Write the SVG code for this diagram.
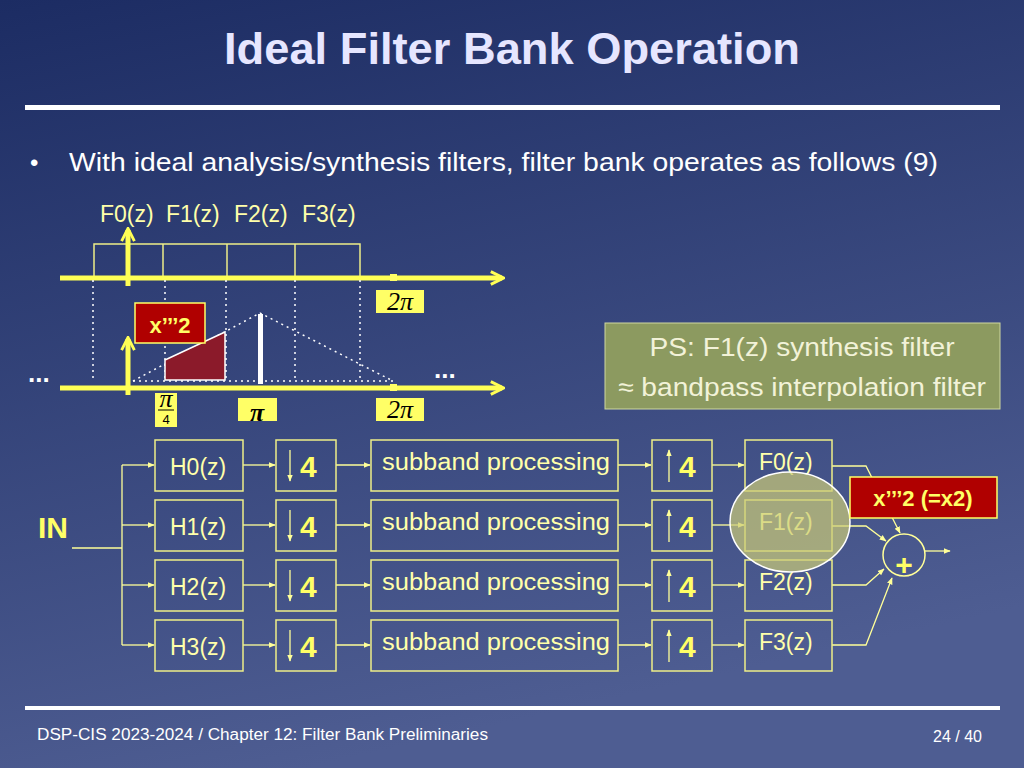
<svg xmlns="http://www.w3.org/2000/svg" width="1024" height="768" viewBox="0 0 1024 768">
<defs>
<linearGradient id="bg" x1="0" y1="0" x2="0.3" y2="1"><stop offset="0" stop-color="#1c2c63"/><stop offset="1" stop-color="#4e5d92"/></linearGradient>
<marker id="a" viewBox="0 0 10 10" refX="9" refY="5" markerWidth="7" markerHeight="7" orient="auto" markerUnits="userSpaceOnUse"><path d="M0,1 L10,5 L0,9 z" fill="#ffff99"/></marker>
<marker id="big" viewBox="0 0 10 10" refX="8" refY="5" markerWidth="16" markerHeight="16" orient="auto" markerUnits="userSpaceOnUse"><path d="M1,1 L9,5 L1,9" fill="none" stroke="#ffff55" stroke-width="1.8"/></marker>
<style>
text{font-family:"Liberation Sans",Arial,sans-serif}
.bx{fill:none;stroke:#eeee88;stroke-width:1.5}
.lb{fill:#ffffaa;font-size:23px}
.n4{fill:#ffff66;font-size:30px;font-weight:bold}
.c{stroke:#ffff99;stroke-width:1.3;fill:none}
.ax{stroke:#ffff55;stroke-width:5;fill:none}
.dt{stroke:#ffffff;stroke-width:1.5;stroke-dasharray:2 4;fill:none}
.yl{fill:#ffff66}
.mth{font-family:"Liberation Serif",serif;font-style:italic;fill:#000;font-size:26px}
</style>
</defs>
<rect width="1024" height="768" fill="url(#bg)"/>
<text x="512" y="64" text-anchor="middle" font-size="44" font-weight="bold" fill="#e6e6ff" textLength="576" lengthAdjust="spacingAndGlyphs">Ideal Filter Bank Operation</text>
<rect x="25" y="105" width="975" height="5" fill="#ffffff"/>
<text x="30" y="171" font-size="24" fill="#ffffff">•</text>
<text x="69" y="171" font-size="25" fill="#ffffff" textLength="869" lengthAdjust="spacingAndGlyphs">With ideal analysis/synthesis filters, filter bank operates as follows (9)</text>

<g id="plot">
<text x="100" y="222" class="lb" font-size="20">F0(z)</text><text x="166" y="222" class="lb" font-size="20">F1(z)</text><text x="234" y="222" class="lb" font-size="20">F2(z)</text><text x="302" y="222" class="lb" font-size="20">F3(z)</text>
<rect x="94" y="244" width="266" height="34" class="bx"/>
<line x1="163" y1="244" x2="163" y2="278" class="bx"/>
<line x1="227" y1="244" x2="227" y2="278" class="bx"/>
<line x1="295" y1="244" x2="295" y2="278" class="bx"/>
<line x1="60" y1="278" x2="502" y2="278" class="ax" marker-end="url(#big)"/>
<line x1="128" y1="286" x2="128" y2="230" class="ax" marker-end="url(#big)"/>
<rect x="390" y="274" width="7" height="7" class="yl"/>
<g class="dt"><line x1="93" y1="280" x2="93" y2="382"/><line x1="165" y1="280" x2="165" y2="382"/><line x1="226" y1="280" x2="226" y2="382"/><line x1="295" y1="280" x2="295" y2="382"/><line x1="360" y1="280" x2="360" y2="382"/>
<polyline points="133,381 260,313 393,381"/><line x1="133" y1="381" x2="393" y2="381"/></g>
<polygon points="165,360 225,332 225,380 165,380" fill="#8b1a2a" stroke="#ffffff" stroke-width="1.5"/>
<rect x="258" y="314" width="5" height="70" fill="#ffffff"/>
<line x1="60" y1="388" x2="502" y2="388" class="ax" marker-end="url(#big)"/>
<line x1="128" y1="395" x2="128" y2="339" class="ax" marker-end="url(#big)"/>
<rect x="390" y="384" width="7" height="7" class="yl"/>
<rect x="135" y="303" width="70" height="40" fill="#b00000" stroke="#ffff66" stroke-width="1.5"/>
<text x="170" y="333" text-anchor="middle" font-size="22" font-weight="bold" fill="#ffff66">x’’’2</text>
<rect x="376" y="290" width="48" height="23" class="yl"/><text x="400" y="310" text-anchor="middle" class="mth">2π</text>
<rect x="376" y="398" width="48" height="23" class="yl"/><text x="400" y="418" text-anchor="middle" class="mth">2π</text>
<rect x="238" y="398" width="39" height="23" class="yl"/><text x="257" y="421" text-anchor="middle" class="mth" font-size="34" font-weight="bold">π</text>
<rect x="155" y="393" width="22" height="34" class="yl"/><text x="166" y="407" text-anchor="middle" class="mth" font-size="15">π</text><line x1="158" y1="410" x2="174" y2="410" stroke="#000"/><text x="166" y="424" text-anchor="middle" font-size="13" fill="#000" font-family="Liberation Serif,serif">4</text>
<text x="28" y="382" font-size="26" font-weight="bold" fill="#ffffff">...</text>
<text x="434" y="378" font-size="26" font-weight="bold" fill="#ffffff">...</text>
</g>

<g id="ps">
<rect x="605" y="323" width="395" height="86" fill="#8c9a60" stroke="#cfd8a0" stroke-width="1"/>
<text x="802" y="356" text-anchor="middle" font-size="26" fill="#f2f2d8" textLength="305" lengthAdjust="spacingAndGlyphs">PS: F1(z) synthesis filter</text>
<text x="802" y="396" text-anchor="middle" font-size="26" fill="#f2f2d8" textLength="368" lengthAdjust="spacingAndGlyphs">≈ bandpass interpolation filter</text>
</g>

<text x="38" y="538" font-size="30" font-weight="bold" fill="#ffff66">IN</text>

<g id="connectors">
<polyline class="c" points="72,548 122,548"/>
<line class="c" x1="122" y1="465" x2="122" y2="645"/>
<g marker-end="url(#a)">
<line class="c" x1="122" y1="465" x2="154" y2="465"/><line class="c" x1="122" y1="525" x2="154" y2="525"/><line class="c" x1="122" y1="585" x2="154" y2="585"/><line class="c" x1="122" y1="645" x2="154" y2="645"/>
<line class="c" x1="243" y1="465" x2="275" y2="465"/><line class="c" x1="243" y1="525" x2="275" y2="525"/><line class="c" x1="243" y1="585" x2="275" y2="585"/><line class="c" x1="243" y1="645" x2="275" y2="645"/>
<line class="c" x1="336" y1="465" x2="370" y2="465"/><line class="c" x1="336" y1="525" x2="370" y2="525"/><line class="c" x1="336" y1="585" x2="370" y2="585"/><line class="c" x1="336" y1="645" x2="370" y2="645"/>
<line class="c" x1="618" y1="465" x2="651" y2="465"/><line class="c" x1="618" y1="525" x2="651" y2="525"/><line class="c" x1="618" y1="585" x2="651" y2="585"/><line class="c" x1="618" y1="645" x2="651" y2="645"/>
<line class="c" x1="712" y1="465" x2="744" y2="465"/><line class="c" x1="712" y1="525" x2="744" y2="525"/><line class="c" x1="712" y1="585" x2="744" y2="585"/><line class="c" x1="712" y1="645" x2="744" y2="645"/>
<polyline class="c" points="832,466 866,466 900,533"/>
<polyline class="c" points="832,526 866,526 886,541"/>
<polyline class="c" points="832,585 866,585 884,569"/>
<polyline class="c" points="832,645 866,645 892,578"/>
<line class="c" x1="925" y1="551" x2="950" y2="551"/>
</g>
</g>

<g id="H"><g class="bx"><rect x="155" y="440" width="88" height="51"/><rect x="155" y="500" width="88" height="51"/><rect x="155" y="560" width="88" height="51"/><rect x="155" y="620" width="88" height="51"/></g>
<text x="170" y="475" class="lb">H0(z)</text><text x="170" y="535" class="lb">H1(z)</text><text x="170" y="595" class="lb">H2(z)</text><text x="170" y="655" class="lb">H3(z)</text></g>

<g id="down"><g class="bx"><rect x="276" y="440" width="60" height="51"/><rect x="276" y="500" width="60" height="51"/><rect x="276" y="560" width="60" height="51"/><rect x="276" y="620" width="60" height="51"/></g>
<g marker-end="url(#a)"><line class="c" x1="290" y1="450" x2="290" y2="481"/><line class="c" x1="290" y1="510" x2="290" y2="541"/><line class="c" x1="290" y1="570" x2="290" y2="601"/><line class="c" x1="290" y1="630" x2="290" y2="661"/></g>
<text x="300" y="477" class="n4">4</text><text x="300" y="537" class="n4">4</text><text x="300" y="597" class="n4">4</text><text x="300" y="657" class="n4">4</text></g>

<g id="sub"><g class="bx"><rect x="371" y="440" width="247" height="51"/><rect x="371" y="500" width="247" height="51"/><rect x="371" y="560" width="247" height="51"/><rect x="371" y="620" width="247" height="51"/></g>
<g class="lb" font-size="24"><text x="382" y="470" textLength="228" lengthAdjust="spacingAndGlyphs">subband processing</text><text x="382" y="530" textLength="228" lengthAdjust="spacingAndGlyphs">subband processing</text><text x="382" y="590" textLength="228" lengthAdjust="spacingAndGlyphs">subband processing</text><text x="382" y="650" textLength="228" lengthAdjust="spacingAndGlyphs">subband processing</text></g></g>

<g id="up"><g class="bx"><rect x="652" y="440" width="60" height="51"/><rect x="652" y="500" width="60" height="51"/><rect x="652" y="560" width="60" height="51"/><rect x="652" y="620" width="60" height="51"/></g>
<g marker-end="url(#a)"><line class="c" x1="669" y1="482" x2="669" y2="450"/><line class="c" x1="669" y1="542" x2="669" y2="510"/><line class="c" x1="669" y1="602" x2="669" y2="570"/><line class="c" x1="669" y1="662" x2="669" y2="630"/></g>
<text x="679" y="477" class="n4">4</text><text x="679" y="537" class="n4">4</text><text x="679" y="597" class="n4">4</text><text x="679" y="657" class="n4">4</text></g>

<g id="F"><g class="bx"><rect x="745" y="440" width="87" height="51"/><rect x="745" y="500" width="87" height="51"/><rect x="745" y="560" width="87" height="51"/><rect x="745" y="620" width="87" height="51"/></g>
<text x="759" y="470" class="lb">F0(z)</text><text x="759" y="530" class="lb">F1(z)</text><text x="759" y="590" class="lb">F2(z)</text><text x="759" y="650" class="lb">F3(z)</text></g>

<ellipse id="highlight" cx="790" cy="522" rx="60" ry="50" fill="#cccc77" fill-opacity="0.7" stroke="#ffffff" stroke-width="1.5"/>

<g id="sum"><circle cx="904" cy="555" r="21" fill="none" stroke="#ffff99" stroke-width="1.5"/><text x="904" y="575" text-anchor="middle" font-size="30" font-weight="bold" fill="#ffff66">+</text></g>

<g id="label"><rect x="850" y="477" width="147" height="41" fill="#b00000" stroke="#ffff66" stroke-width="1.5"/><text x="923" y="506" text-anchor="middle" font-size="22" font-weight="bold" fill="#ffff66">x’’’2 (=x2)</text></g>

<rect x="25" y="706" width="975" height="4" fill="#ffffff"/>
<text x="37" y="740" font-size="16" fill="#ffffff" textLength="451" lengthAdjust="spacingAndGlyphs">DSP-CIS 2023-2024  / Chapter 12: Filter Bank Preliminaries</text>
<text x="982" y="742" text-anchor="end" font-size="16" fill="#ffffff">24 / 40</text>
</svg>
